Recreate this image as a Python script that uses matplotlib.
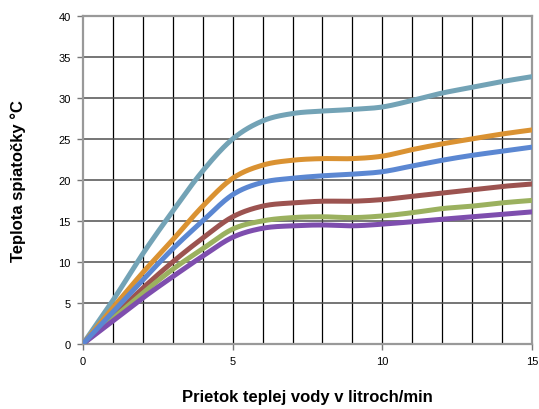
import numpy as np
import matplotlib
matplotlib.use("Agg")
import matplotlib.pyplot as plt

plt.rcParams['font.family'] = ['Liberation Sans', 'DejaVu Sans']

# prietok (l/min) a teploty spiatočky pre jednotlivé krivky
prietok = list(range(0, 16))
tyrkysova = [0, 5.3, 11.0, 16.2, 21.1, 25.0, 27.2, 28.1, 28.4, 28.6, 28.9, 29.7, 30.6, 31.3, 32.0, 32.6]
oranzova = [0, 4.4, 8.7, 12.7, 16.8, 20.2, 21.8, 22.4, 22.6, 22.6, 22.9, 23.7, 24.4, 25.0, 25.6, 26.1]
modra = [0, 3.9, 7.8, 11.6, 15.0, 18.2, 19.7, 20.2, 20.5, 20.7, 21.0, 21.7, 22.4, 23.0, 23.5, 24.0]
hneda = [0, 3.4, 6.8, 10.0, 12.9, 15.5, 16.8, 17.2, 17.4, 17.4, 17.6, 18.0, 18.4, 18.8, 19.2, 19.5]
zelena = [0, 3.1, 6.2, 9.1, 11.6, 14.0, 15.0, 15.4, 15.5, 15.4, 15.6, 16.0, 16.5, 16.8, 17.2, 17.5]
fialova = [0, 2.8, 5.6, 8.2, 10.7, 13.0, 14.1, 14.4, 14.5, 14.4, 14.6, 14.9, 15.2, 15.5, 15.8, 16.1]

krivky = [
    (tyrkysova, '#73A3B6'),
    (oranzova, '#DA9232'),
    (hneda, '#9C5350'),
    (zelena, '#9BB15F'),
    (fialova, '#7E4EAE'),
    (modra, '#5B87D2'),
]


def hladka(xs, ys, n=30):
    # vyhladenie ako v Exceli (Bezier s napätím 1/6)
    p = np.column_stack([xs, ys]).astype(float)
    p = np.vstack([p[0], p, p[-1]])
    out = []
    for i in range(1, len(p) - 2):
        p0, p1, p2, p3 = p[i - 1], p[i], p[i + 1], p[i + 2]
        c1 = p1 + (p2 - p0) / 6
        c2 = p2 - (p3 - p1) / 6
        t = np.linspace(0, 1, n)[:, None]
        seg = ((1 - t) ** 3) * p1 + 3 * ((1 - t) ** 2) * t * c1 + 3 * (1 - t) * t ** 2 * c2 + t ** 3 * p2
        out.append(seg)
    s = np.vstack(out)
    return s[:, 0], s[:, 1]


fig = plt.figure(figsize=(5.39, 4.10), dpi=100)
ax = fig.add_axes([0.154, 0.159, 0.833, 0.7995])

for x in range(1, 15):
    ax.axvline(x, color='black', lw=0.9, zorder=1)
for y in range(5, 40, 5):
    ax.axhline(y, color='#505050', lw=1.1, zorder=1)

for ys, farba in krivky:
    hx, hy = hladka(prietok, ys)
    ax.plot(hx, hy, color=farba, lw=3.6, solid_capstyle='round', zorder=3)

ax.set_xlim(0, 15)
ax.set_ylim(0, 40)
ax.set_xticks([0, 5, 10, 15])
ax.set_yticks(range(0, 41, 5))
for s in ax.spines.values():
    s.set_color('#999999')
    s.set_linewidth(1.6)
ax.tick_params(colors='#777777', labelcolor='black', labelsize=8, length=4, width=1)
ax.tick_params(axis='x', pad=5)
ax.tick_params(axis='y', pad=5)

ax.set_xlabel('Prietok teplej vody v litroch/min', fontsize=12, fontweight='bold', va='center')
ax.xaxis.set_label_coords(0.5, -0.162)
ax.set_ylabel('Teplota spiatočky °C', fontsize=12, fontweight='bold', va='center')
ax.yaxis.set_label_coords(-0.145, 0.5)

fig.savefig('out.png', dpi=100)
